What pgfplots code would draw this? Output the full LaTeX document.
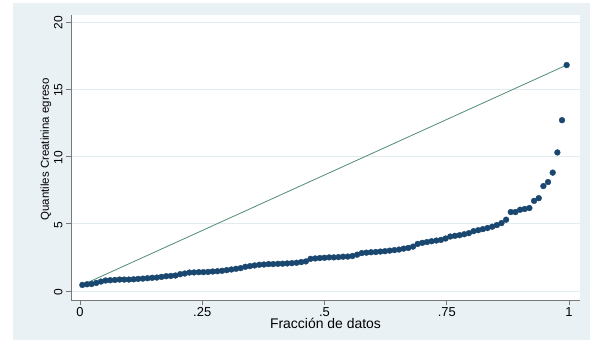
\documentclass[border=0pt]{standalone}
\usepackage{pgfplots}
\pgfplotsset{compat=1.18}
\usepackage{fontspec}
\setmainfont{Liberation Sans}
\definecolor{stnavy}{RGB}{26,71,111}
\definecolor{stgreen}{RGB}{80,140,118}
\definecolor{stbg}{RGB}{234,241,244}
\definecolor{stgrid}{RGB}{226,235,239}
\definecolor{staxis}{RGB}{120,120,120}
\pgfplotstableread{
x y
0.0048 0.45
0.0143 0.5
0.0238 0.52
0.0333 0.6
0.0429 0.7
0.0524 0.78
0.0619 0.8
0.0714 0.82
0.0810 0.85
0.0905 0.85
0.1000 0.85
0.1095 0.87
0.1190 0.9
0.1286 0.92
0.1381 0.95
0.1476 0.98
0.1571 1.0
0.1667 1.05
0.1762 1.1
0.1857 1.12
0.1952 1.15
0.2048 1.25
0.2143 1.3
0.2238 1.37
0.2333 1.38
0.2429 1.4
0.2524 1.4
0.2619 1.42
0.2714 1.45
0.2810 1.47
0.2905 1.5
0.3000 1.55
0.3095 1.6
0.3190 1.65
0.3286 1.7
0.3381 1.8
0.3476 1.85
0.3571 1.9
0.3667 1.95
0.3762 1.97
0.3857 2.0
0.3952 2.0
0.4048 2.02
0.4143 2.03
0.4238 2.05
0.4333 2.07
0.4429 2.1
0.4524 2.15
0.4619 2.2
0.4714 2.39
0.4810 2.42
0.4905 2.45
0.5000 2.47
0.5095 2.5
0.5190 2.5
0.5286 2.52
0.5381 2.55
0.5476 2.56
0.5571 2.6
0.5667 2.7
0.5762 2.82
0.5857 2.85
0.5952 2.88
0.6048 2.9
0.6143 2.93
0.6238 2.96
0.6333 3.0
0.6429 3.04
0.6524 3.08
0.6619 3.15
0.6714 3.2
0.6810 3.3
0.6905 3.5
0.7000 3.58
0.7095 3.64
0.7190 3.7
0.7286 3.75
0.7381 3.8
0.7476 3.9
0.7571 4.05
0.7667 4.1
0.7762 4.15
0.7857 4.22
0.7952 4.3
0.8048 4.45
0.8143 4.52
0.8238 4.6
0.8333 4.68
0.8429 4.78
0.8524 4.9
0.8619 5.05
0.8714 5.3
0.8810 5.87
0.8905 5.87
0.9000 6.04
0.9095 6.1
0.9190 6.17
0.9286 6.7
0.9381 6.9
0.9476 7.8
0.9571 8.1
0.9667 8.8
0.9762 10.3
0.9857 12.7
0.9952 16.8
}\qdata
\begin{document}
\begin{tikzpicture}[x=1bp,y=1bp]
\fill[stbg] (-58,-40) rectangle (519,297);
\useasboundingbox (-71,-43) rectangle (526,300);
\begin{axis}[
  at={(0,0)}, anchor=south west,
  width=509bp, height=285bp, scale only axis,
  xmin=-0.0184, xmax=1.0225, ymin=-0.67, ymax=20.52,
  axis x line*=bottom, axis y line*=left,
  axis line style={-, draw=staxis, line width=0.6bp},
  axis background/.style={fill=white},
  xtick={0,0.25,0.5,0.75,1}, xticklabels={0,.25,.5,.75,1},
  ytick={0,5,10,15,20},
  /pgf/number format/assume math mode=true,
  tick align=outside, major tick length=5bp,
  tick style={staxis, line width=0.6bp},
  ymajorgrids, grid style={stgrid, line width=0.9bp},
  xticklabel style={font=\fontsize{13}{15}\selectfont, yshift=1bp},
  yticklabel style={font=\fontsize{12}{14}\selectfont, rotate=90, anchor=south, xshift=-1bp},
  xlabel={Fracción de datos},
  ylabel={Quantiles Creatinina egreso},
  xlabel style={font=\fontsize{14}{16}\selectfont, yshift=5bp},
  ylabel style={font=\fontsize{11.5}{13}\selectfont, yshift=-4bp, xshift=8bp},
  clip=false,
]
\addplot[stgreen, line width=0.8bp] coordinates {(0.0048,0.45) (0.9952,16.8)};
\addplot[only marks, mark=*, mark size=2.9bp, mark options={fill=stnavy, draw=stnavy}] table[x=x,y=y] {\qdata};
\end{axis}
\end{tikzpicture}
\end{document}
